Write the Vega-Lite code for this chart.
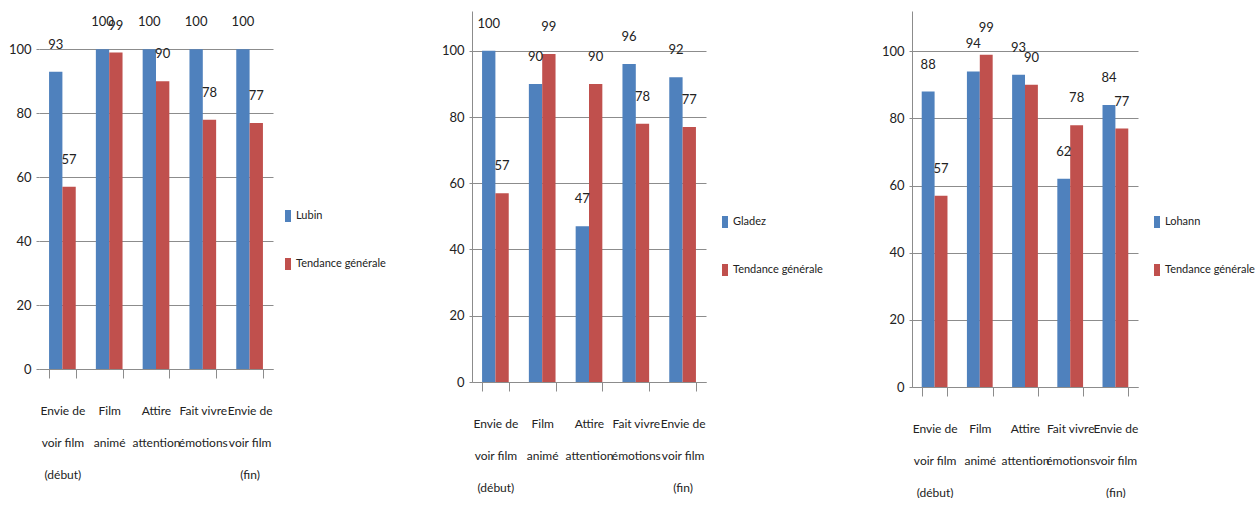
{
  "$schema": "https://vega.github.io/schema/vega-lite/v6.json",
  "background": "white",
  "padding": {"left": 8, "top": 11, "right": 0, "bottom": 0},
  "config": {
    "font": "Lato",
    "view": {"stroke": null},
    "concat": {"spacing": 55},
    "axis": {
      "labelFont": "Lato",
      "labelFontSize": 13,
      "labelColor": "#222222",
      "gridColor": "#8c8c8c",
      "domainColor": "#8c8c8c",
      "tickColor": "#8c8c8c",
      "title": null
    },
    "legend": {
      "labelFont": "Lato",
      "labelFontSize": 11,
      "labelColor": "#222222"
    }
  },
  "datasets": {
    "scores": [
      {"panel": "Lubin", "critere": "Envie de|voir film|(début)", "serie": "Lubin", "valeur": 93},
      {"panel": "Lubin", "critere": "Film|animé", "serie": "Lubin", "valeur": 100},
      {"panel": "Lubin", "critere": "Attire|attention", "serie": "Lubin", "valeur": 100},
      {"panel": "Lubin", "critere": "Fait vivre|émotions", "serie": "Lubin", "valeur": 100},
      {"panel": "Lubin", "critere": "Envie de|voir film|(fin)", "serie": "Lubin", "valeur": 100},
      {"panel": "Lubin", "critere": "Envie de|voir film|(début)", "serie": "Tendance générale", "valeur": 57},
      {"panel": "Lubin", "critere": "Film|animé", "serie": "Tendance générale", "valeur": 99},
      {"panel": "Lubin", "critere": "Attire|attention", "serie": "Tendance générale", "valeur": 90},
      {"panel": "Lubin", "critere": "Fait vivre|émotions", "serie": "Tendance générale", "valeur": 78},
      {"panel": "Lubin", "critere": "Envie de|voir film|(fin)", "serie": "Tendance générale", "valeur": 77},
      {"panel": "Gladez", "critere": "Envie de|voir film|(début)", "serie": "Gladez", "valeur": 100},
      {"panel": "Gladez", "critere": "Film|animé", "serie": "Gladez", "valeur": 90},
      {"panel": "Gladez", "critere": "Attire|attention", "serie": "Gladez", "valeur": 47},
      {"panel": "Gladez", "critere": "Fait vivre|émotions", "serie": "Gladez", "valeur": 96},
      {"panel": "Gladez", "critere": "Envie de|voir film|(fin)", "serie": "Gladez", "valeur": 92},
      {"panel": "Gladez", "critere": "Envie de|voir film|(début)", "serie": "Tendance générale", "valeur": 57},
      {"panel": "Gladez", "critere": "Film|animé", "serie": "Tendance générale", "valeur": 99},
      {"panel": "Gladez", "critere": "Attire|attention", "serie": "Tendance générale", "valeur": 90},
      {"panel": "Gladez", "critere": "Fait vivre|émotions", "serie": "Tendance générale", "valeur": 78},
      {"panel": "Gladez", "critere": "Envie de|voir film|(fin)", "serie": "Tendance générale", "valeur": 77},
      {"panel": "Lohann", "critere": "Envie de|voir film|(début)", "serie": "Lohann", "valeur": 88},
      {"panel": "Lohann", "critere": "Film|animé", "serie": "Lohann", "valeur": 94},
      {"panel": "Lohann", "critere": "Attire|attention", "serie": "Lohann", "valeur": 93},
      {"panel": "Lohann", "critere": "Fait vivre|émotions", "serie": "Lohann", "valeur": 62},
      {"panel": "Lohann", "critere": "Envie de|voir film|(fin)", "serie": "Lohann", "valeur": 84},
      {"panel": "Lohann", "critere": "Envie de|voir film|(début)", "serie": "Tendance générale", "valeur": 57},
      {"panel": "Lohann", "critere": "Film|animé", "serie": "Tendance générale", "valeur": 99},
      {"panel": "Lohann", "critere": "Attire|attention", "serie": "Tendance générale", "valeur": 90},
      {"panel": "Lohann", "critere": "Fait vivre|émotions", "serie": "Tendance générale", "valeur": 78},
      {"panel": "Lohann", "critere": "Envie de|voir film|(fin)", "serie": "Tendance générale", "valeur": 77}
    ]
  },
  "hconcat": [
    {
      "width": 234, "height": 358,
      "data": {"name": "scores"},
      "transform": [{"filter": "datum.panel === 'Lubin'"}],
      "encoding": {
        "x": {"field": "critere", "type": "nominal", "sort": null,
              "scale": {"paddingInner": 0.43, "paddingOuter": 0.215},
              "axis": {"labelAngle": 0, "labelExpr": "split(datum.label, '|')", "labelFontSize": 12, "labelLineHeight": 32, "labelPadding": 27, "tickBand": "extent", "tickSize": 9, "grid": false, "labelBaseline": "top"}},
        "xOffset": {"field": "serie", "type": "nominal", "scale": {"paddingInner": 0, "paddingOuter": 0}},
        "y": {"field": "valeur", "type": "quantitative", "scale": {"domain": [0, 112], "nice": false},
              "axis": {"values": [0, 20, 40, 60, 80, 100], "domain": false, "ticks": true, "tickSize": 3, "labelPadding": 5}}
      },
      "layer": [
        {"mark": {"type": "bar"},
         "encoding": {"color": {"field": "serie", "type": "nominal", "scale": {"range": ["#4F81BD", "#C0504D"]},
           "legend": {"orient": "none", "legendX": 243, "legendY": 199, "title": null, "symbolType": "M-0.5,-1H0.5V1H-0.5Z", "symbolSize": 144, "symbolStrokeWidth": 0, "rowPadding": 36, "labelOffset": 2}}}},
        {"mark": {"type": "text", "baseline": "middle", "dy": -27, "fontSize": 13, "color": "#222222"},
         "encoding": {"text": {"field": "valeur"}}}
      ]
    },
    {
      "width": 234, "height": 371,
      "data": {"name": "scores"},
      "transform": [{"filter": "datum.panel === 'Gladez'"}],
      "encoding": {
        "x": {"field": "critere", "type": "nominal", "sort": null,
              "scale": {"paddingInner": 0.43, "paddingOuter": 0.215},
              "axis": {"labelAngle": 0, "labelExpr": "split(datum.label, '|')", "labelFontSize": 12, "labelLineHeight": 32, "labelPadding": 27, "tickBand": "extent", "tickSize": 9, "grid": false, "labelBaseline": "top"}},
        "xOffset": {"field": "serie", "type": "nominal", "scale": {"paddingInner": 0, "paddingOuter": 0}},
        "y": {"field": "valeur", "type": "quantitative", "scale": {"domain": [0, 112], "nice": false},
              "axis": {"values": [0, 20, 40, 60, 80, 100], "domain": true, "ticks": true, "tickSize": 3, "labelPadding": 5}}
      },
      "layer": [
        {"mark": {"type": "bar"},
         "encoding": {"color": {"field": "serie", "type": "nominal", "scale": {"range": ["#4F81BD", "#C0504D"]},
           "legend": {"orient": "none", "legendX": 247, "legendY": 205, "title": null, "symbolType": "M-0.5,-1H0.5V1H-0.5Z", "symbolSize": 144, "symbolStrokeWidth": 0, "rowPadding": 36, "labelOffset": 2}}}},
        {"mark": {"type": "text", "baseline": "middle", "dy": -27, "fontSize": 13, "color": "#222222"},
         "encoding": {"text": {"field": "valeur"}}}
      ]
    },
    {
      "width": 226, "height": 376,
      "data": {"name": "scores"},
      "transform": [{"filter": "datum.panel === 'Lohann'"}],
      "encoding": {
        "x": {"field": "critere", "type": "nominal", "sort": null,
              "scale": {"paddingInner": 0.43, "paddingOuter": 0.215},
              "axis": {"labelAngle": 0, "labelExpr": "split(datum.label, '|')", "labelFontSize": 12, "labelLineHeight": 32, "labelPadding": 27, "tickBand": "extent", "tickSize": 9, "grid": false, "labelBaseline": "top"}},
        "xOffset": {"field": "serie", "type": "nominal", "scale": {"paddingInner": 0, "paddingOuter": 0}},
        "y": {"field": "valeur", "type": "quantitative", "scale": {"domain": [0, 112], "nice": false},
              "axis": {"values": [0, 20, 40, 60, 80, 100], "domain": true, "ticks": true, "tickSize": 3, "labelPadding": 5, "minExtent": 34}}
      },
      "layer": [
        {"mark": {"type": "bar"},
         "encoding": {"color": {"field": "serie", "type": "nominal", "scale": {"range": ["#4F81BD", "#C0504D"]},
           "legend": {"orient": "none", "legendX": 239, "legendY": 205, "title": null, "symbolType": "M-0.5,-1H0.5V1H-0.5Z", "symbolSize": 144, "symbolStrokeWidth": 0, "rowPadding": 36, "labelOffset": 2}}}},
        {"mark": {"type": "text", "baseline": "middle", "dy": -27, "fontSize": 13, "color": "#222222"},
         "encoding": {"text": {"field": "valeur"}}}
      ]
    }
  ],
  "resolve": {"scale": {"color": "independent", "x": "independent", "y": "independent", "xOffset": "independent"}}
}
